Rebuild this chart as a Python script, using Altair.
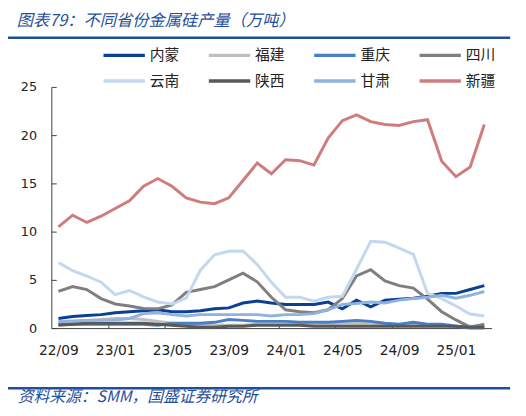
import json
import altair as alt
import pandas as pd

# ---------------- data ----------------
months = ["22/09", "22/10", "22/11", "22/12", "23/01", "23/02", "23/03", "23/04",
          "23/05", "23/06", "23/07", "23/08", "23/09", "23/10", "23/11", "23/12",
          "24/01", "24/02", "24/03", "24/04", "24/05", "24/06", "24/07", "24/08",
          "24/09", "24/10", "24/11", "24/12", "25/01", "25/02", "25/03"]

provinces = ["内蒙", "福建", "重庆", "四川", "云南", "陕西", "甘肃", "新疆"]
colors = ["#0a3f96", "#bfbfbf", "#4a7ec4", "#7f7f7f", "#c3d7ef", "#595959", "#8fb3dc", "#d07c7c"]

neimeng = [1.0, 1.2, 1.3, 1.4, 1.6, 1.7, 1.8, 1.9, 1.7, 1.7, 1.8, 2.0, 2.1, 2.6, 2.8, 2.6,
           2.45, 2.45, 2.45, 2.7, 2.0, 2.9, 2.2, 2.9, 3.0, 3.1, 3.3, 3.6, 3.6, 4.0, 4.4]
fujian = [0.6, 0.7, 0.8, 0.9, 1.0, 1.0, 0.9, 0.7, 0.5, 0.4, 0.3, 0.3, 0.3, 0.3, 0.4, 0.4,
          0.4, 0.4, 0.3, 0.4, 0.5, 0.5, 0.5, 0.4, 0.3, 0.3, 0.3, 0.3, 0.2, 0.2, 0.2]
chongqing = [0.4, 0.4, 0.4, 0.4, 0.4, 0.4, 0.4, 0.3, 0.5, 0.5, 0.5, 0.6, 0.9, 0.8, 0.7, 0.7,
             0.7, 0.6, 0.6, 0.6, 0.7, 0.8, 0.7, 0.5, 0.4, 0.6, 0.4, 0.4, 0.2, 0.0, 0.0]
sichuan = [3.8, 4.3, 4.0, 3.06, 2.5, 2.3, 2.04, 2.0, 2.4, 3.7, 4.0, 4.3, 5.0, 5.7, 4.8, 3.2,
           1.9, 1.7, 1.6, 1.9, 3.06, 5.4, 6.05, 4.9, 4.4, 4.15, 3.0, 1.7, 0.85, 0.1, 0.4]
yunnan = [6.8, 5.95, 5.4, 4.76, 3.47, 3.9, 3.23, 2.7, 2.5, 3.1, 6.0, 7.6, 7.96, 8.0, 6.6, 4.76,
          3.2, 3.2, 2.8, 3.2, 3.3, 6.1, 9.0, 8.9, 8.3, 7.65, 3.6, 3.06, 2.3, 1.46, 1.26]
shaanxi = [0.3, 0.4, 0.5, 0.5, 0.5, 0.5, 0.5, 0.4, 0.3, 0.2, 0.1, 0.1, 0.2, 0.2, 0.3, 0.3,
           0.3, 0.3, 0.2, 0.2, 0.2, 0.2, 0.2, 0.2, 0.2, 0.2, 0.2, 0.2, 0.2, 0.1, 0.1]
gansu = [0.7, 0.75, 0.8, 0.8, 0.85, 1.0, 1.5, 1.6, 1.4, 1.25, 1.4, 1.4, 1.4, 1.4, 1.4, 1.25,
         1.4, 1.4, 1.5, 1.9, 2.45, 2.55, 2.7, 2.6, 2.9, 3.06, 3.2, 3.4, 3.1, 3.4, 3.8]
xinjiang = [10.5, 11.7, 10.95, 11.6, 12.4, 13.2, 14.7, 15.5, 14.7, 13.5, 13.06, 12.9, 13.5, 15.3, 17.1, 16.0,
            17.45, 17.35, 16.9, 19.7, 21.5, 22.1, 21.4, 21.1, 21.0, 21.4, 21.6, 17.3, 15.7, 16.7, 21.1]

series = {"内蒙": neimeng, "福建": fujian, "重庆": chongqing, "四川": sichuan,
          "云南": yunnan, "陕西": shaanxi, "甘肃": gansu, "新疆": xinjiang}

title_text = "图表79：不同省份金属硅产量（万吨）"
source_text = "资料来源：SMM，国盛证券研究所"

x_label_values = list(range(0, len(months), 4))
x_tick_values = [v - 0.5 for v in range(4, len(months), 4)]
y_values = [0, 5, 10, 15, 20, 25]

rows = []
for p in provinces:
    for i, v in enumerate(series[p]):
        rows.append({"idx": i, "month": months[i], "province": p, "value": v})
df = pd.DataFrame(rows)

# ---------------- chart ----------------
W, H = 447, 245
BLUE = "#1f4e9a"
AXIS = "#404040"
label_expr = json.dumps(months, ensure_ascii=False) + "[datum.value]"

x_scale = alt.Scale(domain=[-0.5, len(months) - 0.5], nice=False, zero=False)
y_scale = alt.Scale(domain=[0, 25], nice=False)

lines = alt.Chart(df).mark_line(strokeWidth=3).encode(
    x=alt.X("idx:Q", scale=x_scale,
            axis=alt.Axis(title=None, values=x_label_values, labelExpr=label_expr,
                          ticks=False, tickSize=0, grid=False, domainColor=AXIS,
                          labelFont="DejaVu Sans", labelFontSize=14, labelColor="#222",
                          labelPadding=16, labelFlush=False, labelOverlap=False)),
    y=alt.Y("value:Q", scale=y_scale,
            axis=alt.Axis(title=None, values=y_values, ticks=False, tickSize=0, grid=False,
                          domainColor=AXIS, labelFont="DejaVu Sans", labelFontSize=13,
                          labelColor="#222", labelPadding=15)),
    color=alt.Color("province:N", scale=alt.Scale(domain=provinces, range=colors),
                    legend=alt.Legend(title=None, orient="none", legendX=79, legendY=-41,
                                      columns=4, direction="horizontal",
                                      symbolType="M-5,0L1,0", symbolSize=196,
                                      symbolStrokeWidth=3.5, labelFontSize=15,
                                      labelFont="Noto Sans CJK SC", labelColor="#222",
                                      labelOffset=3, columnPadding=22, rowPadding=9,
                                      padding=0)),
)

inner_ticks = alt.Chart(df).mark_line(opacity=0).encode(
    x=alt.X("idx:Q", scale=x_scale,
            axis=alt.Axis(title=None, orient="top", offset=-H, values=x_tick_values,
                          labels=False, domain=False, tickSize=5, tickColor=AXIS, grid=False)),
    y=alt.Y("value:Q", scale=y_scale,
            axis=alt.Axis(title=None, orient="right", offset=-W, values=y_values,
                          labels=False, domain=False, tickSize=5, tickColor=AXIS, grid=False)),
    detail="province:N",
)

one = pd.DataFrame({"t": [title_text]})
two = pd.DataFrame({"t": [source_text]})

title_mark = alt.Chart(one).mark_text(
    align="left", baseline="middle", font="Noto Sans CJK SC", fontSize=16.5,
    fontStyle="italic", color=BLUE
).encode(x=alt.value(-35), y=alt.value(-67), text="t:N")

source_mark = alt.Chart(two).mark_text(
    align="left", baseline="middle", font="Noto Sans CJK SC", fontSize=16,
    fontStyle="italic", color=BLUE
).encode(x=alt.value(-34), y=alt.value(315), text="t:N")

top_rule = alt.Chart(one).mark_rule(color=BLUE, strokeWidth=2.5).encode(
    x=alt.value(-44), x2=alt.value(466), y=alt.value(-50))
bottom_rule = alt.Chart(one).mark_rule(color=BLUE, strokeWidth=2.5).encode(
    x=alt.value(-44), x2=alt.value(466), y=alt.value(306))

chart = alt.layer(lines, inner_ticks, title_mark, source_mark, top_rule, bottom_rule).resolve_axis(
    x="independent", y="independent"
).properties(
    width=W, height=H,
    autosize=alt.AutoSizeParams(type="none"),
    padding={"left": 44, "top": 77, "right": 27, "bottom": 78},
).configure_view(stroke=None)

chart.save("out.html", embed_options={"renderer": "svg", "actions": False})
